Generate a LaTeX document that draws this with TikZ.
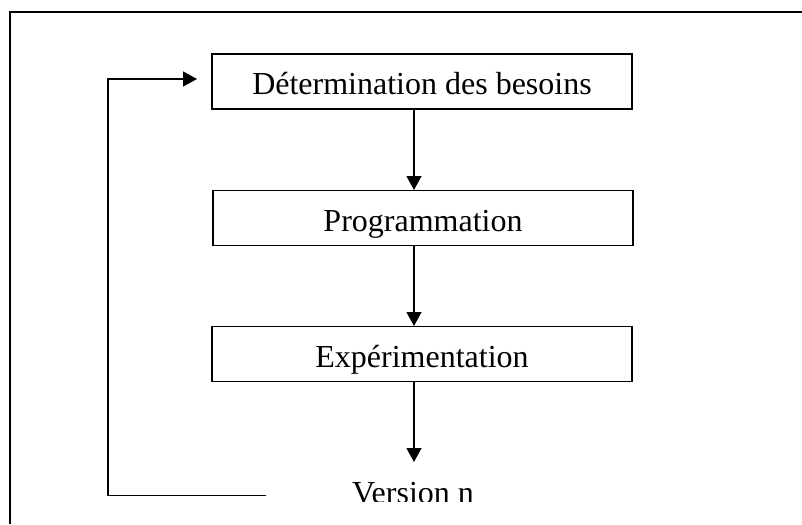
\documentclass[tikz,border=0pt]{standalone}
\usepackage{fontspec}
\setmainfont{Liberation Serif}
\usetikzlibrary{arrows.meta}
\begin{document}
\begin{tikzpicture}[x=1pt,y=-1pt,
  stagebox/.style={draw,line width=1.4pt,minimum width=420pt,minimum height=55pt,inner sep=0pt},
  stagetext/.style={anchor=base,inner sep=0pt,font=\fontsize{32}{38}\selectfont},
  flow/.style={line width=1.4pt,-{Triangle[length=14pt,width=15pt]}},
  plain/.style={line width=1.4pt}]
\useasboundingbox (0,0) rectangle (802,524);
% outer frame (open at right and bottom)
\draw[line width=2pt] (10,524) -- (10,12) -- (802,12);
% boxes
\node[stagebox] (b1) at (422,81.5) {};
\node[stagebox] (b2) at (423,218) {};
\node[stagebox] (b3) at (422,354) {};
% texts
\node[stagetext] (t1) at (422,95) {Détermination des besoins};
\node[stagetext] (t2) at (423,231) {Programmation};
\node[stagetext] (t3) at (422,367) {Expérimentation};
\begin{scope}
\clip (0,0) rectangle (802,501.5);
\node[stagetext] (v) at (413,503) {Version n};
\end{scope}
% coordinates for connectors
\coordinate (a1s) at (414,109);
\coordinate (a1e) at (414,190);
\coordinate (a2s) at (414,246);
\coordinate (a2e) at (414,326);
\coordinate (a3s) at (414,382);
\coordinate (a3e) at (414,462);
\coordinate (fb) at (266,495.5);
\coordinate (fbc) at (108,495.5);
\coordinate (fbt) at (108,79);
\coordinate (fbe) at (197,79);
\draw[flow] (a1s) -- (a1e);
\draw[flow] (a2s) -- (a2e);
\draw[flow] (a3s) -- (a3e);
\draw[flow] (fb) -- (fbc) -- (fbt) -- (fbe);
\end{tikzpicture}
\end{document}
